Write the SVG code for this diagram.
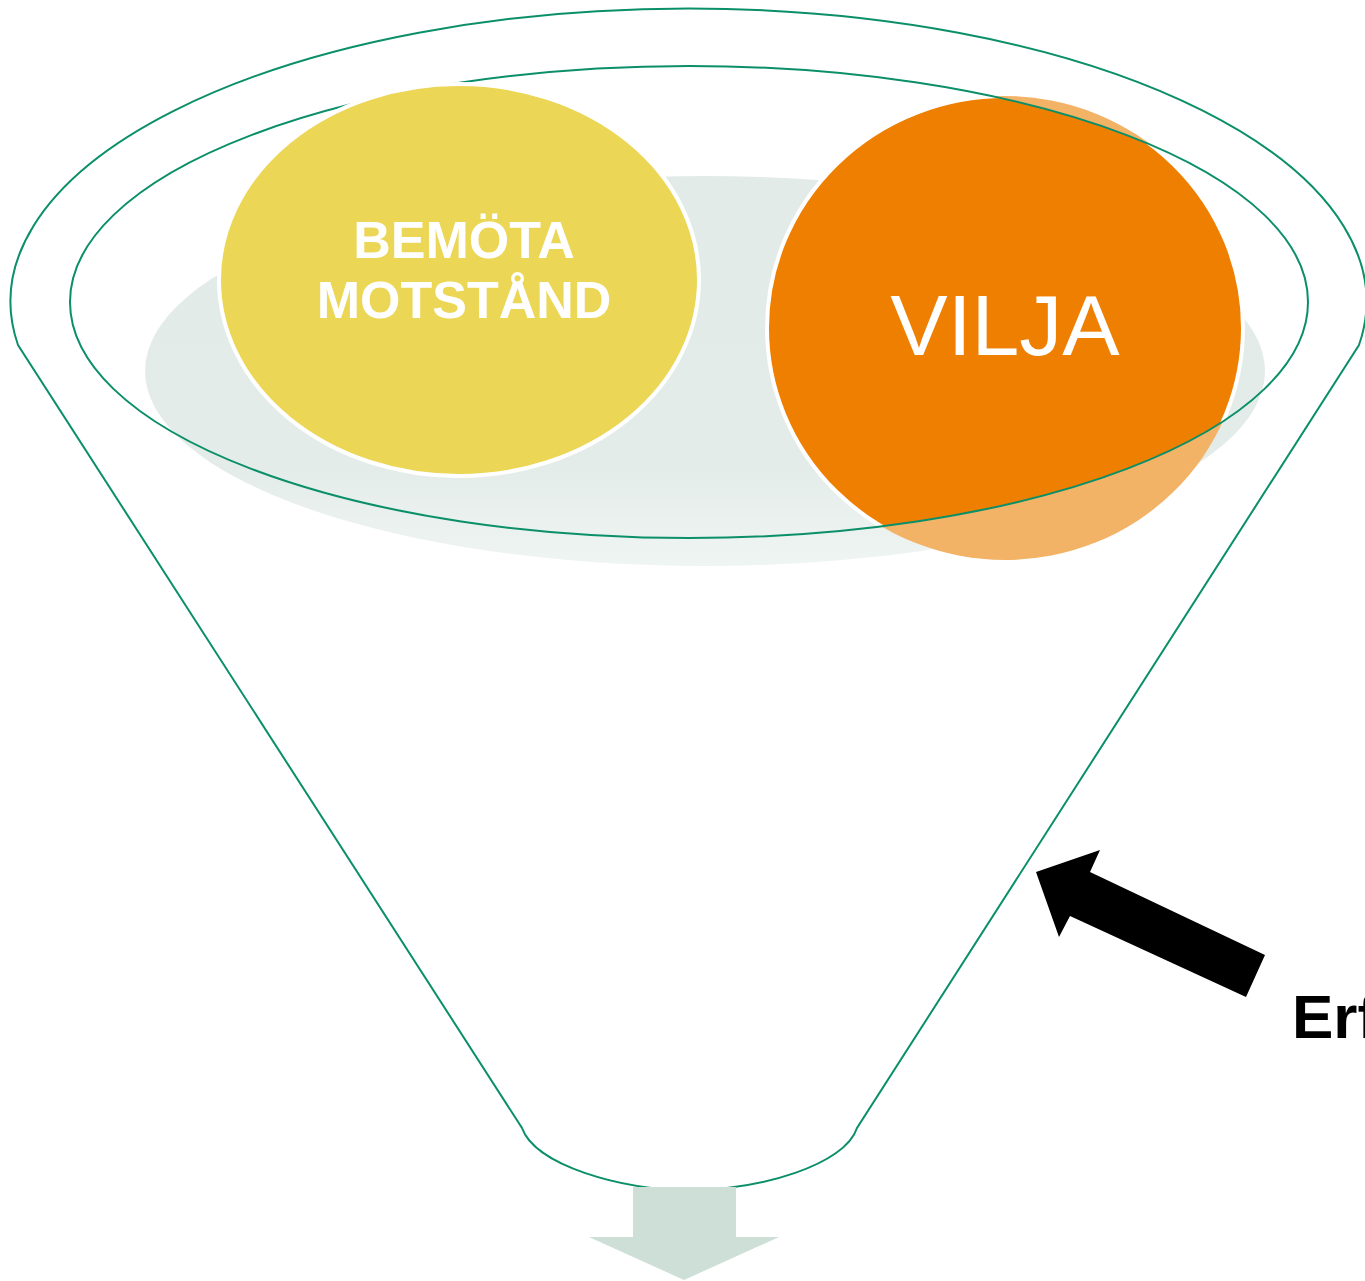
<svg xmlns="http://www.w3.org/2000/svg" width="1365" height="1281" viewBox="0 0 1365 1281">
<style>
.line{fill:none;stroke:#0b8f69;stroke-width:2}
.bold{font-family:"Liberation Sans",Arial,sans-serif;font-weight:bold}
.reg{font-family:"Liberation Sans",Arial,sans-serif}
</style>
<defs>
<linearGradient id="shadow" x1="0" y1="0" x2="0" y2="1">
<stop offset="0" stop-color="#e2ebe7"/>
<stop offset="0.75" stop-color="#e4ece9"/>
<stop offset="1" stop-color="#eff5f2"/>
</linearGradient>
<clipPath id="innerClip"><ellipse cx="689" cy="302" rx="619" ry="236"/></clipPath>
</defs>
<rect width="1365" height="1281" fill="#ffffff"/>
<g id="funnel">
<path class="line" style="fill:#ffffff" d="M18,345 A678,293 0 1 1 1359,345 L857,1128 C845,1165 760,1190 690,1190 C620,1190 535,1165 522,1128 Z"/>
<ellipse cx="705" cy="371" rx="560" ry="195" fill="url(#shadow)"/>
</g>
<g id="node-vilja">
<ellipse cx="1005" cy="328" rx="238" ry="232" fill="#f3b366"/>
<ellipse cx="1005" cy="328" rx="238" ry="232" fill="#ef7f00" stroke="#ffffff" stroke-width="4" clip-path="url(#innerClip)"/>
<text class="reg" x="1005" y="355" font-size="86" fill="#ffffff" text-anchor="middle">VILJA</text>
</g>
<g id="funnel-rim">
<ellipse class="line" cx="689" cy="302" rx="619" ry="236"/>
</g>
<g id="node-bemota">
<ellipse cx="459" cy="280" rx="240" ry="196" fill="#ecd655" stroke="#ffffff" stroke-width="4"/>
<text class="bold" x="464" y="258" font-size="52" fill="#ffffff" text-anchor="middle">BEMÖTA</text>
<text class="bold" x="464" y="318" font-size="52" fill="#ffffff" text-anchor="middle">MOTSTÅND</text>
</g>
<g id="connectors">
<polygon points="633,1187 736,1187 736,1237 779,1237 684,1280 589,1237 633,1237" fill="#cddfd6"/>
<polygon points="1036,872 1100,850 1090,872 1265,955 1246,997 1070,916 1059,937" fill="#000000"/>
</g>
<g id="label-erf">
<text class="bold" x="1292" y="1038" font-size="62" fill="#000000">Erf</text>
</g>
</svg>
